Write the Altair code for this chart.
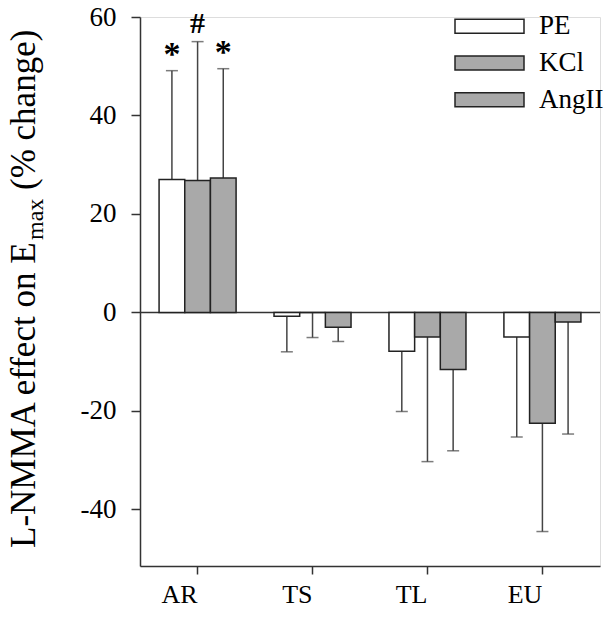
import altair as alt
import pandas as pd

regions = ["AR", "TS", "TL", "EU"]
series = ["PE", "KCl", "AngII"]
pe_vals = [27.0, -0.8, -7.9, -5.0]
kcl_vals = [26.8, 0.0, -5.0, -22.5]
ang_vals = [27.3, -3.0, -11.6, -1.95]
pe_err = [49.1, -8.0, -20.1, -25.3]
kcl_err = [55.0, -5.1, -30.3, -44.5]
ang_err = [49.5, -5.9, -28.1, -24.7]
ar_marks = ["*", "#", "*"]
y_ticks = [-40, -20, 0, 20, 40, 60]

FONT = "Liberation Serif"
AX = "#333333"

rows = []
for s, vals, errs in zip(series, [pe_vals, kcl_vals, ang_vals], [pe_err, kcl_err, ang_err]):
    for r, v, e in zip(regions, vals, errs):
        rows.append({"region": r, "series": s, "value": v, "err": e})
df = pd.DataFrame(rows)

ann = pd.DataFrame({"region": ["AR"] * 3, "series": series, "mark": ar_marks,
                    "err": [pe_err[0], kcl_err[0], ang_err[0]]})

fill_scale = alt.Scale(domain=series, range=["#ffffff", "#a9a9a9", "#a9a9a9"])

x_enc = alt.X("region:N", sort=regions,
              scale=alt.Scale(paddingInner=0.33, paddingOuter=0.166),
              axis=alt.Axis(title=None, labelAngle=0, tickSize=8, tickColor=AX, tickWidth=1.5,
                            domainColor=AX, domainWidth=1.5, labelFont=FONT, labelFontSize=26,
                            labelColor="black", labelPadding=20, grid=False))
xo_enc = alt.XOffset("series:N", sort=series, scale=alt.Scale(paddingInner=0, paddingOuter=0))
y_scale = alt.Scale(domain=[-51.5, 60], nice=False, zero=False)

base = alt.Chart(df)

bars = base.mark_bar(stroke="#222222", strokeWidth=1.5).encode(
    x=x_enc,
    xOffset=xo_enc,
    y=alt.Y("value:Q", scale=y_scale,
            axis=alt.Axis(values=y_ticks, title=None, labelFont=FONT, labelFontSize=27,
                          labelColor="black", tickSize=9, tickColor=AX, tickWidth=1.5,
                          domainColor=AX, domainWidth=1.5, labelPadding=15, grid=False,
                          labelExpr="'' + datum.value")),
    y2=alt.datum(0),
    fill=alt.Fill("series:N", sort=series, scale=fill_scale, legend=None),
)

err_rules = base.mark_rule(color="#444444", strokeWidth=1.5).encode(
    x=alt.X("region:N", sort=regions), xOffset=alt.XOffset("series:N", sort=series),
    y=alt.Y("value:Q", scale=y_scale), y2="err:Q")

err_caps = base.mark_tick(color="#444444", thickness=1.5, size=12, orient="horizontal").encode(
    x=alt.X("region:N", sort=regions), xOffset=alt.XOffset("series:N", sort=series),
    y=alt.Y("err:Q", scale=y_scale))

zero = alt.Chart(pd.DataFrame({"z": [0]})).mark_rule(color=AX, strokeWidth=1.5).encode(
    y=alt.Y("z:Q", scale=y_scale), x=alt.value(0), x2=alt.value(460))

stars = alt.Chart(ann).transform_filter("datum.mark == '*'").mark_text(
    font=FONT, fontWeight="bold", fontSize=34, baseline="alphabetic", dy=-6, color="black").encode(
    x=alt.X("region:N", sort=regions), xOffset=alt.XOffset("series:N", sort=series),
    y=alt.Y("err:Q", scale=y_scale), text="mark:N")

hashes = alt.Chart(ann).transform_filter("datum.mark == '#'").mark_text(
    font=FONT, fontWeight="bold", fontSize=30, baseline="alphabetic", dy=-9, color="black").encode(
    x=alt.X("region:N", sort=regions), xOffset=alt.XOffset("series:N", sort=series),
    y=alt.Y("err:Q", scale=y_scale), text="mark:N")

# manual legend
legend_layers = []
for i, s in enumerate(series):
    top = 2.3 + i * 36.7
    ldf = pd.DataFrame({"series": [s]})
    legend_layers.append(alt.Chart(ldf).mark_rect(stroke="#222222", strokeWidth=1.5).encode(
        x=alt.value(315), x2=alt.value(384), y=alt.value(top), y2=alt.value(top + 14),
        fill=alt.Fill("series:N", scale=fill_scale, legend=None)))
    legend_layers.append(alt.Chart(ldf).mark_text(
        font=FONT, fontSize=27, align="left", baseline="middle", color="black").encode(
        text="series:N", x=alt.value(399), y=alt.value(top + 7)))

t1 = alt.Chart(pd.DataFrame({"t": ["L-NMMA effect on E"]})).mark_text(
    font=FONT, fontSize=35, angle=270, align="left", baseline="alphabetic", color="black").encode(
    text="t:N", x=alt.value(-105), y=alt.value(531))
t2 = alt.Chart(pd.DataFrame({"t": ["max"]})).mark_text(
    font=FONT, fontSize=24, angle=270, align="left", baseline="alphabetic", color="black").encode(
    text="t:N", x=alt.value(-97), y=alt.value(223))
t3 = alt.Chart(pd.DataFrame({"t": ["(% change)"]})).mark_text(
    font=FONT, fontSize=35, angle=270, align="left", baseline="alphabetic", color="black").encode(
    text="t:N", x=alt.value(-105), y=alt.value(173))

chart = alt.layer(zero, err_rules, err_caps, bars, stars, hashes, *legend_layers, t1, t2, t3).properties(
    width=460, height=549,
    autosize=alt.AutoSizeParams(type="none"),
    padding={"left": 132, "top": 9, "right": 5, "bottom": 43},
).configure_view(stroke=None).configure(background="white")

chart.save("out.html", embed_options={"renderer": "svg", "actions": False})
